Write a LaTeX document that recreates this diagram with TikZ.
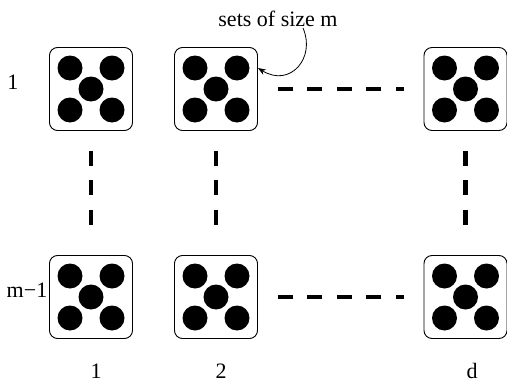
\documentclass[tikz,border=0pt]{standalone}
\usepackage{fontspec}
\setmainfont{Liberation Serif}
\usetikzlibrary{arrows.meta}
\begin{document}
\begin{tikzpicture}[x=1pt,y=-1pt,
  setbox/.style={draw,line width=0.9pt,rounded corners=8pt,minimum size=83pt,inner sep=0pt},
  dashline/.style={line width=4.5pt,dash pattern=on 15pt off 14.5pt},
  lbl/.style={font=\fontsize{22}{24}\selectfont,inner sep=0pt},
  dot/.style={fill=black}]
\useasboundingbox (0,0) rectangle (507,383);
% the grid of sets
\foreach \r/\y in {1/89,2/297}{
  \foreach \c/\x in {1/91,2/216,d/465.5}{
    \node[setbox] (b\r\c) at (\x,\y) {};
    \foreach \dx/\dy in {-21/-21,21/-21,0/0,-21/21,21/21}
      \fill[dot] ([xshift=\dx pt,yshift=-\dy pt]b\r\c.center) circle (12.5pt);
  }
}
% dashed connectors
\draw[dashline] ([xshift=20pt]b12.east) -- ([xshift=-20pt]b1d.west);
\draw[dashline] ([xshift=20pt]b22.east) -- ([xshift=-20pt]b2d.west);
\foreach \c in {1,2,d}
  \draw[dashline] ([yshift=-20pt]b1\c.south) -- ([yshift=20pt]b2\c.north);
% labels
\node[lbl,anchor=base] (r1) at (13,89) {1};
\node[lbl,anchor=base] (rm) at (27,297) {m−1};
\node[lbl,anchor=base] (c1) at (96,378.5) {1};
\node[lbl,anchor=base] (c2) at (221,378.5) {2};
\node[lbl,anchor=base] (cd) at (472,378.5) {d};
\node[lbl,anchor=base] (note) at (278,26) {sets of size m};
\coordinate (from) at (303,28);
\coordinate (to) at ([yshift=21pt]b12.east);
\draw[line width=0.8pt,-{Stealth[length=8pt,width=6pt]}] (from) .. controls (316,58) and (290,88) .. (to);
\end{tikzpicture}
\end{document}
